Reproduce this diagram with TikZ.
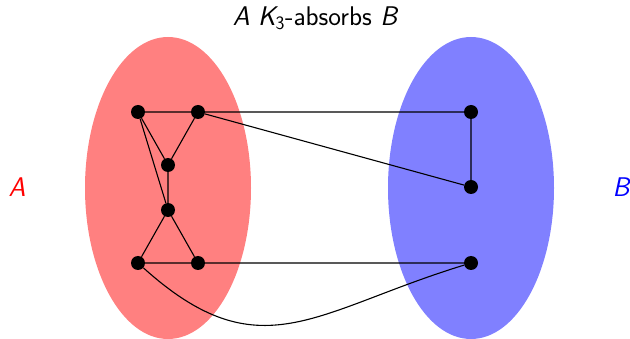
\documentclass[tikz,border=0pt]{standalone}
\begin{document}
\begin{tikzpicture}[x=1pt,y=-1pt,
  vtx/.style={circle,fill=black,inner sep=0pt,minimum size=14pt},
  edge/.style={line width=1.1pt},
  lbl/.style={font=\sffamily\fontsize{27}{31}\selectfont}]
\useasboundingbox (0,0) rectangle (630,339);
\fill[red!50] (168,188) ellipse [x radius=83, y radius=151];
\fill[blue!50] (471,188) ellipse [x radius=83, y radius=151];
\node[lbl,text=red] (la) at (17,187) {\itshape A};
\node[lbl,text=blue] (lb) at (621,187) {\itshape B};
\node[lbl] (title) at (315,18) {\itshape A \itshape K\textsubscript{\upshape 3}\upshape-absorbs \itshape B};
\node[vtx] (a1) at (138,112) {};
\node[vtx] (a2) at (198,112) {};
\node[vtx] (a3) at (168,165) {};
\node[vtx] (a4) at (168,210) {};
\node[vtx] (a5) at (138,263) {};
\node[vtx] (a6) at (198,263) {};
\node[vtx] (b1) at (471,112) {};
\node[vtx] (b2) at (471,187) {};
\node[vtx] (b3) at (471,263) {};
\draw[edge] (a1)--(a2) (a1)--(a3) (a2)--(a3) (a1)--(a4) (a3)--(a4)
  (a4)--(a5) (a4)--(a6) (a5)--(a6) (a2)--(b1) (a2)--(b2) (b1)--(b2) (a6)--(b3);
\draw[edge] (a5) to[out=-42,in=197,looseness=1.25] (b3);
\end{tikzpicture}
\end{document}
